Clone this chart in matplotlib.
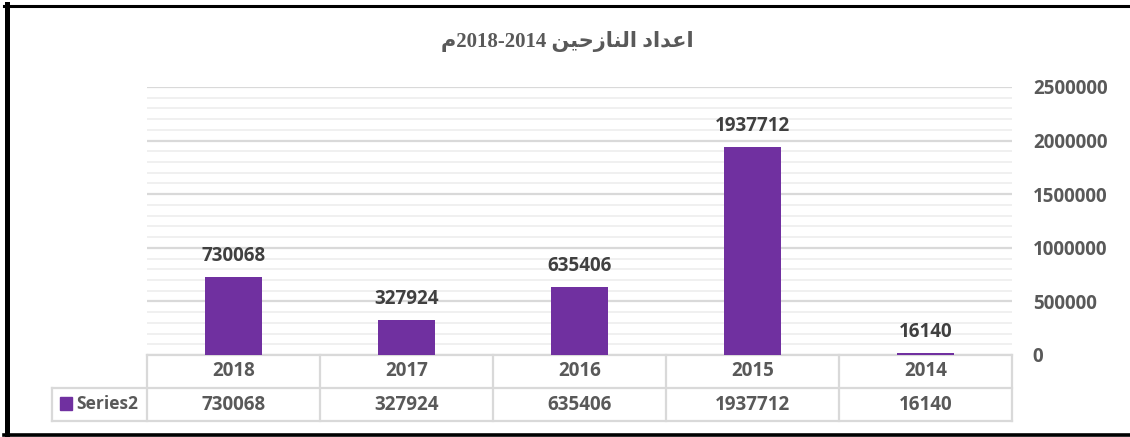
import matplotlib.pyplot as plt
from matplotlib.lines import Line2D
from matplotlib.patches import Rectangle
from matplotlib.ticker import MultipleLocator, FuncFormatter
import matplotlib.transforms as mtransforms

# yearly counts, right-to-left layout so newest year comes first
years = ['2018', '2017', '2016', '2015', '2014']
values = [730068, 327924, 635406, 1937712, 16140]
series_name = 'Series2'

# title written in display order with Arabic presentation forms
word_count = '\uFEA9\uFE8D\uFEAA\uFECB\uFE8D'                    # اعداد
word_displaced = '\uFEE6\uFEF4\uFEA3\uFEAF\uFE8E\uFEE8\uFEDF\uFE8D'  # النازحين
title = '\uFEE1' + '2018-2014 ' + word_displaced + ' ' + word_count

bar_color = '#7030A0'
text_color = '#595959'
grid_major = '#d9d9d9'
grid_minor = '#f0f0f0'
fs = 13.5

plt.rcParams['font.family'] = ['Open Sans', 'DejaVu Sans']
plt.rcParams['font.weight'] = 'bold'

fig = plt.figure(figsize=(11.3, 4.37), dpi=100)
ax = fig.add_axes([147 / 1130, 1 - 355 / 437, (1012 - 147) / 1130, (355 - 87) / 437])

x = list(range(len(years)))
ax.bar(x, values, width=0.335, color=bar_color, zorder=3)

# value labels over each bar
for xi, v in zip(x, values):
    ax.annotate(str(v), (xi, v), xytext=(0, 8), textcoords='offset points',
                ha='center', va='bottom', fontsize=fs, fontweight='bold',
                color='#404040')

ax.set_xlim(-0.5, len(years) - 0.5)
ax.set_ylim(0, 2500000)
ax.yaxis.set_major_locator(MultipleLocator(500000))
ax.yaxis.set_minor_locator(MultipleLocator(100000))
ax.yaxis.set_major_formatter(FuncFormatter(lambda v, p: str(int(v))))
ax.yaxis.tick_right()
ax.tick_params(axis='y', which='both', length=0, pad=15, labelsize=fs,
               labelcolor=text_color)
for lbl in ax.get_yticklabels():
    lbl.set_fontweight('bold')
ax.set_xticks([])
ax.grid(axis='y', which='major', color=grid_major, linewidth=1.6, zorder=0)
ax.grid(axis='y', which='minor', color=grid_minor, linewidth=1.4, zorder=0)
for s in ax.spines.values():
    s.set_visible(False)

# data table under the plot
trans = mtransforms.blended_transform_factory(ax.transData, ax.transAxes)
row_h = 33 / 268
left_edge = -0.5 - (147 - 52) / 173
right_edge = len(years) - 0.5
tbl = dict(color=grid_major, linewidth=1.6, transform=trans, clip_on=False)

ax.add_line(Line2D([-0.5, right_edge], [0, 0], **tbl))
ax.add_line(Line2D([left_edge, right_edge], [-row_h, -row_h], **tbl))
ax.add_line(Line2D([left_edge, right_edge], [-2 * row_h, -2 * row_h], **tbl))
for b in range(len(years) + 1):
    ax.add_line(Line2D([b - 0.5, b - 0.5], [0, -2 * row_h], **tbl))
ax.add_line(Line2D([left_edge, left_edge], [-row_h, -2 * row_h], **tbl))

for xi, yr, v in zip(x, years, values):
    ax.text(xi, -row_h / 2, yr, transform=trans, ha='center', va='center',
            fontsize=fs, fontweight='bold', color=text_color)
    ax.text(xi, -1.5 * row_h, str(v), transform=trans, ha='center', va='center',
            fontsize=fs, fontweight='bold', color=text_color)

# legend key inside the table
fig.add_artist(Rectangle((60 / 1130, 1 - 410 / 437), 12 / 1130, 13 / 437,
                         transform=fig.transFigure, color=bar_color))
fig.text(76 / 1130, 1 - 404 / 437, series_name, ha='left', va='center',
         fontsize=12.5, fontweight='bold', color=text_color)

fig.text(0.502, 1 - 42 / 437, title, ha='center', va='center',
         fontsize=15, fontweight='bold', color=text_color,
         family=['Liberation Serif', 'DejaVu Sans'])

# black frame around the chart
fig.add_artist(Line2D([6.5 / 1130, 6.5 / 1130], [0, 1 - 4 / 437],
                      transform=fig.transFigure, color='black', linewidth=3.6))
fig.add_artist(Line2D([4 / 1130, 1], [1 - 5.5 / 437, 1 - 5.5 / 437],
                      transform=fig.transFigure, color='black', linewidth=2.2))
fig.add_artist(Line2D([4 / 1130, 1], [1 - 435 / 437, 1 - 435 / 437],
                      transform=fig.transFigure, color='black', linewidth=2.6))

fig.savefig('out.png', dpi=100)
